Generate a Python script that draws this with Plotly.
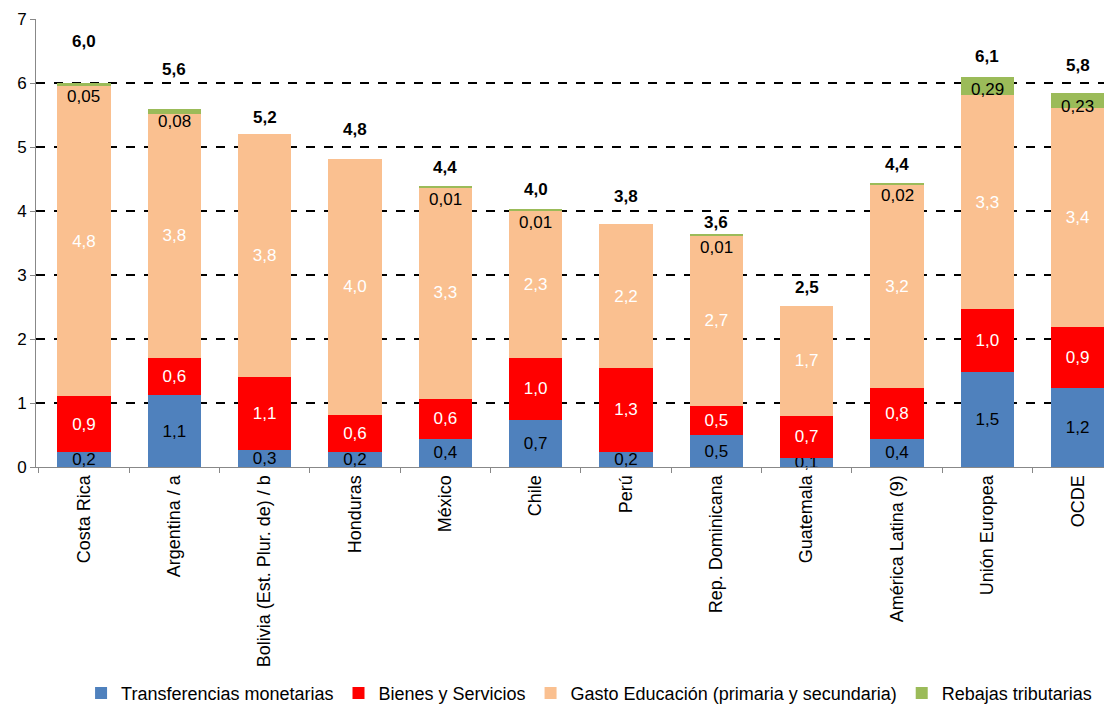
import plotly.graph_objects as go

categories = ["Costa Rica", "Argentina / a", "Bolivia (Est. Plur. de) / b", "Honduras", "México",
              "Chile", "Perú", "Rep. Dominicana", "Guatemala", "América Latina (9)",
              "Unión Europea", "OCDE"]
transferencias = [0.23, 1.12, 0.27, 0.24, 0.44, 0.74, 0.24, 0.50, 0.14, 0.44, 1.49, 1.24]
bienes = [0.88, 0.58, 1.14, 0.58, 0.63, 0.96, 1.31, 0.46, 0.66, 0.79, 0.98, 0.94]
educacion = [4.84, 3.82, 3.79, 4.00, 3.30, 2.31, 2.24, 2.66, 1.72, 3.19, 3.34, 3.43]
rebajas = [0.05, 0.08, 0, 0, 0.01, 0.01, 0, 0.01, 0, 0.02, 0.29, 0.23]
y_ticks = [0, 1, 2, 3, 4, 5, 6, 7]

# label placement (pixels above the bar top for the bold totals)
total_offset_px = [42, 39, 17, 29, 19, 20, 28, 12, 18, 18, 20, 28]

FONT = "Liberation Sans, Arial, sans-serif"
FS = 17
PX_PER_UNIT = 448 / 7

series = [
    ("Transferencias monetarias", transferencias, "#4F81BD", "black"),
    ("Bienes y Servicios", bienes, "#FF0000", "white"),
    ("Gasto Educación (primaria y secundaria)", educacion, "#FAC090", "white"),
]

fig = go.Figure()
for name, vals, color, tcolor in series:
    fig.add_trace(go.Bar(
        x=categories, y=vals, name=name,
        marker=dict(color=color, line=dict(width=0)),
        texttemplate="%{y:.1f}", textposition="inside", insidetextanchor="middle",
        textangle=0, constraintext="none",
        textfont=dict(family=FONT, size=FS, color=tcolor),
        cliponaxis=False,
    ))
fig.add_trace(go.Bar(
    x=categories, y=rebajas, name="Rebajas tributarias",
    marker=dict(color="#9BBB59", line=dict(width=0)),
))

annotations = []
for i, cat in enumerate(categories):
    total = transferencias[i] + bienes[i] + educacion[i] + rebajas[i]
    annotations.append(dict(
        x=cat, y=total, xref="x", yref="y", yshift=total_offset_px[i],
        text="<b>" + f"{total:.1f}".replace(".", ",") + "</b>",
        showarrow=False, yanchor="middle",
        font=dict(family=FONT, size=FS, color="black"),
    ))
    if rebajas[i] > 0:
        shift = -max(13, rebajas[i] * PX_PER_UNIT / 2)
        annotations.append(dict(
            x=cat, y=total, xref="x", yref="y", yshift=shift,
            text=f"{rebajas[i]:.2f}".replace(".", ","),
            showarrow=False, yanchor="middle",
            font=dict(family=FONT, size=FS, color="black"),
        ))

fig.update_layout(
    width=1104, height=698,
    margin=dict(l=28, r=0, t=11, b=239, autoexpand=False),
    barmode="stack", bargap=0.41,
    separators=",.",
    plot_bgcolor="white", paper_bgcolor="white",
    font=dict(family=FONT, size=FS, color="black"),
    uniformtext=dict(minsize=FS, mode="show"),
    showlegend=True,
    legend=dict(orientation="h", x=0.514, xanchor="center",
                y=-0.505, yanchor="middle", traceorder="normal",
                font=dict(family=FONT, size=18, color="black"),
                itemwidth=30, bgcolor="rgba(0,0,0,0)"),
    annotations=annotations,
)
fig.update_xaxes(
    type="category", range=[-0.531, 11.38], automargin=False,
    tickangle=-90, tickson="boundaries", ticks="outside", ticklen=5,
    tickcolor="#888888", showline=True, linecolor="#888888", linewidth=1,
    tickfont=dict(family=FONT, size=18, color="black"), showgrid=False,
)
fig.update_yaxes(
    range=[0, 7], tickvals=y_ticks, ticks="outside", ticklen=5, tickcolor="#888888",
    showline=True, linecolor="#888888", linewidth=1, automargin=False,
    showgrid=True, gridcolor="black", gridwidth=2, griddash="dash",
    zeroline=False, tickfont=dict(family=FONT, size=FS, color="black"),
)

fig.write_html("out.html")
